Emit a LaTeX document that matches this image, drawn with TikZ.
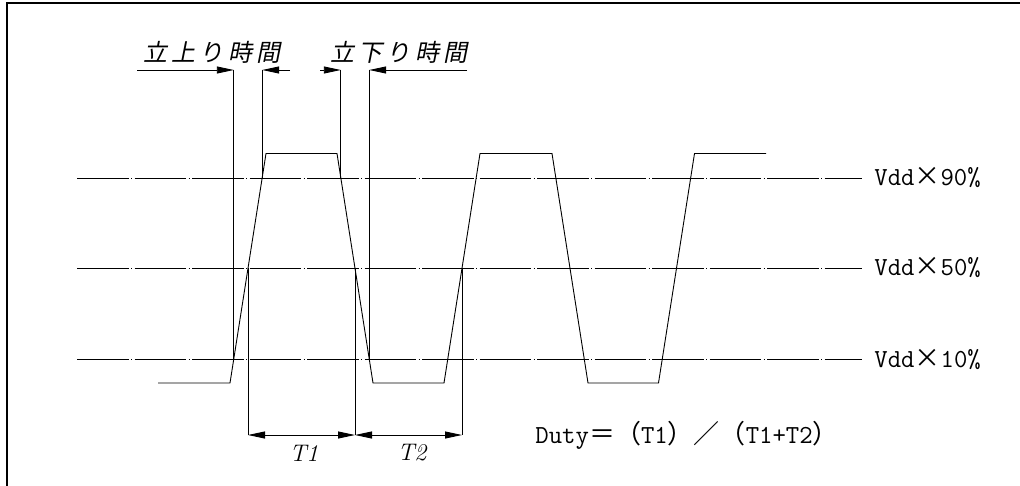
\documentclass[tikz,border=0pt]{standalone}
\usepackage{fontspec}
\usetikzlibrary{arrows.meta}
\newfontfamily\jpfont{Noto Sans CJK JP}
\newfontfamily\jpslant[FakeSlant=0.2,LetterSpace=18]{Noto Sans CJK JP}

\begin{document}
\begin{tikzpicture}[x=1pt, y=-1pt, line width=0.9pt,
    level/.style={dash pattern=on 51.5pt off 2.5pt on 1pt off 2.5pt},
    wave/.style={line join=miter},
    tip/.style={-{Triangle[length=17pt,width=7pt]}},
    dimline/.style={{Triangle[length=17pt,width=7pt]}-{Triangle[length=17pt,width=7pt]}},
    vlabel/.style={anchor=west, inner sep=0pt, font=\fontsize{26}{28}\selectfont\ttfamily},
    jlabel/.style={inner sep=0pt, font=\fontsize{24}{26}\selectfont\jpslant},
    tlabel/.style={inner sep=0pt, font=\fontsize{24}{26}\selectfont\itshape}]
  \useasboundingbox (0,0) rectangle (1020,485);
  \clip (0,0) rectangle (1020,485);
  \draw[line width=2.5pt] (7,3) rectangle (1030,495);

  \foreach \y/\pct in {178/90, 268/50, 359/10} {
    \draw[level] (77,\y) -- (862,\y) coordinate (l\pct);
    \node (v\pct) at (l\pct) [vlabel, xshift=12pt] {Vdd{\jpfont ×}\pct\%};
  }

  \draw[wave] (158,383) -- (230,383) -- (266,153.5) -- (337,153.5) -- (373,383) -- (444,383)
    -- (480,153.5) -- (552,153.5) -- (588,383) -- (658.5,383) -- (694.5,153.5) -- (766,153.5);

  \foreach \x/\y/\name in {233.8/359/ra, 262.2/178/rb, 340.8/178/fa, 369.2/359/fb} {
    \coordinate (\name) at (\x,\y);
    \coordinate (\name-top) at (\x,70);
    \draw (\name) -- (\name-top);
  }
  \coordinate (rl) at (137,70);
  \coordinate (rr) at (290,70);
  \coordinate (fl) at (320,70);
  \coordinate (fr) at (467,70);
  \draw[tip] (rl) -- (ra-top);
  \draw[tip] (rr) -- (rb-top);
  \draw[tip] (fl) -- (fa-top);
  \draw[tip] (fr) -- (fb-top);
  \node (rise) at (212,52) [jlabel] {立上り時間};
  \node (fall) at (399,52) [jlabel] {立下り時間};

  \foreach \x/\name in {248/m1, 355/m2, 462/m3} {
    \coordinate (\name) at (\x,268);
    \coordinate (\name-low) at (\x,435);
    \draw (\name) -- (\name-low);
  }
  \draw[dimline] (m1-low) -- (m2-low);
  \draw[dimline] (m2-low) -- (m3-low);
  \node (t1) at (304,453) [tlabel] {T1};
  \node (t2) at (412,453) [tlabel] {T2};
  \node (duty) at (535,435) [vlabel] {Duty{\jpfont ＝（}T1{\jpfont ）／（}T1+T2{\jpfont ）}};
\end{tikzpicture}
\end{document}
